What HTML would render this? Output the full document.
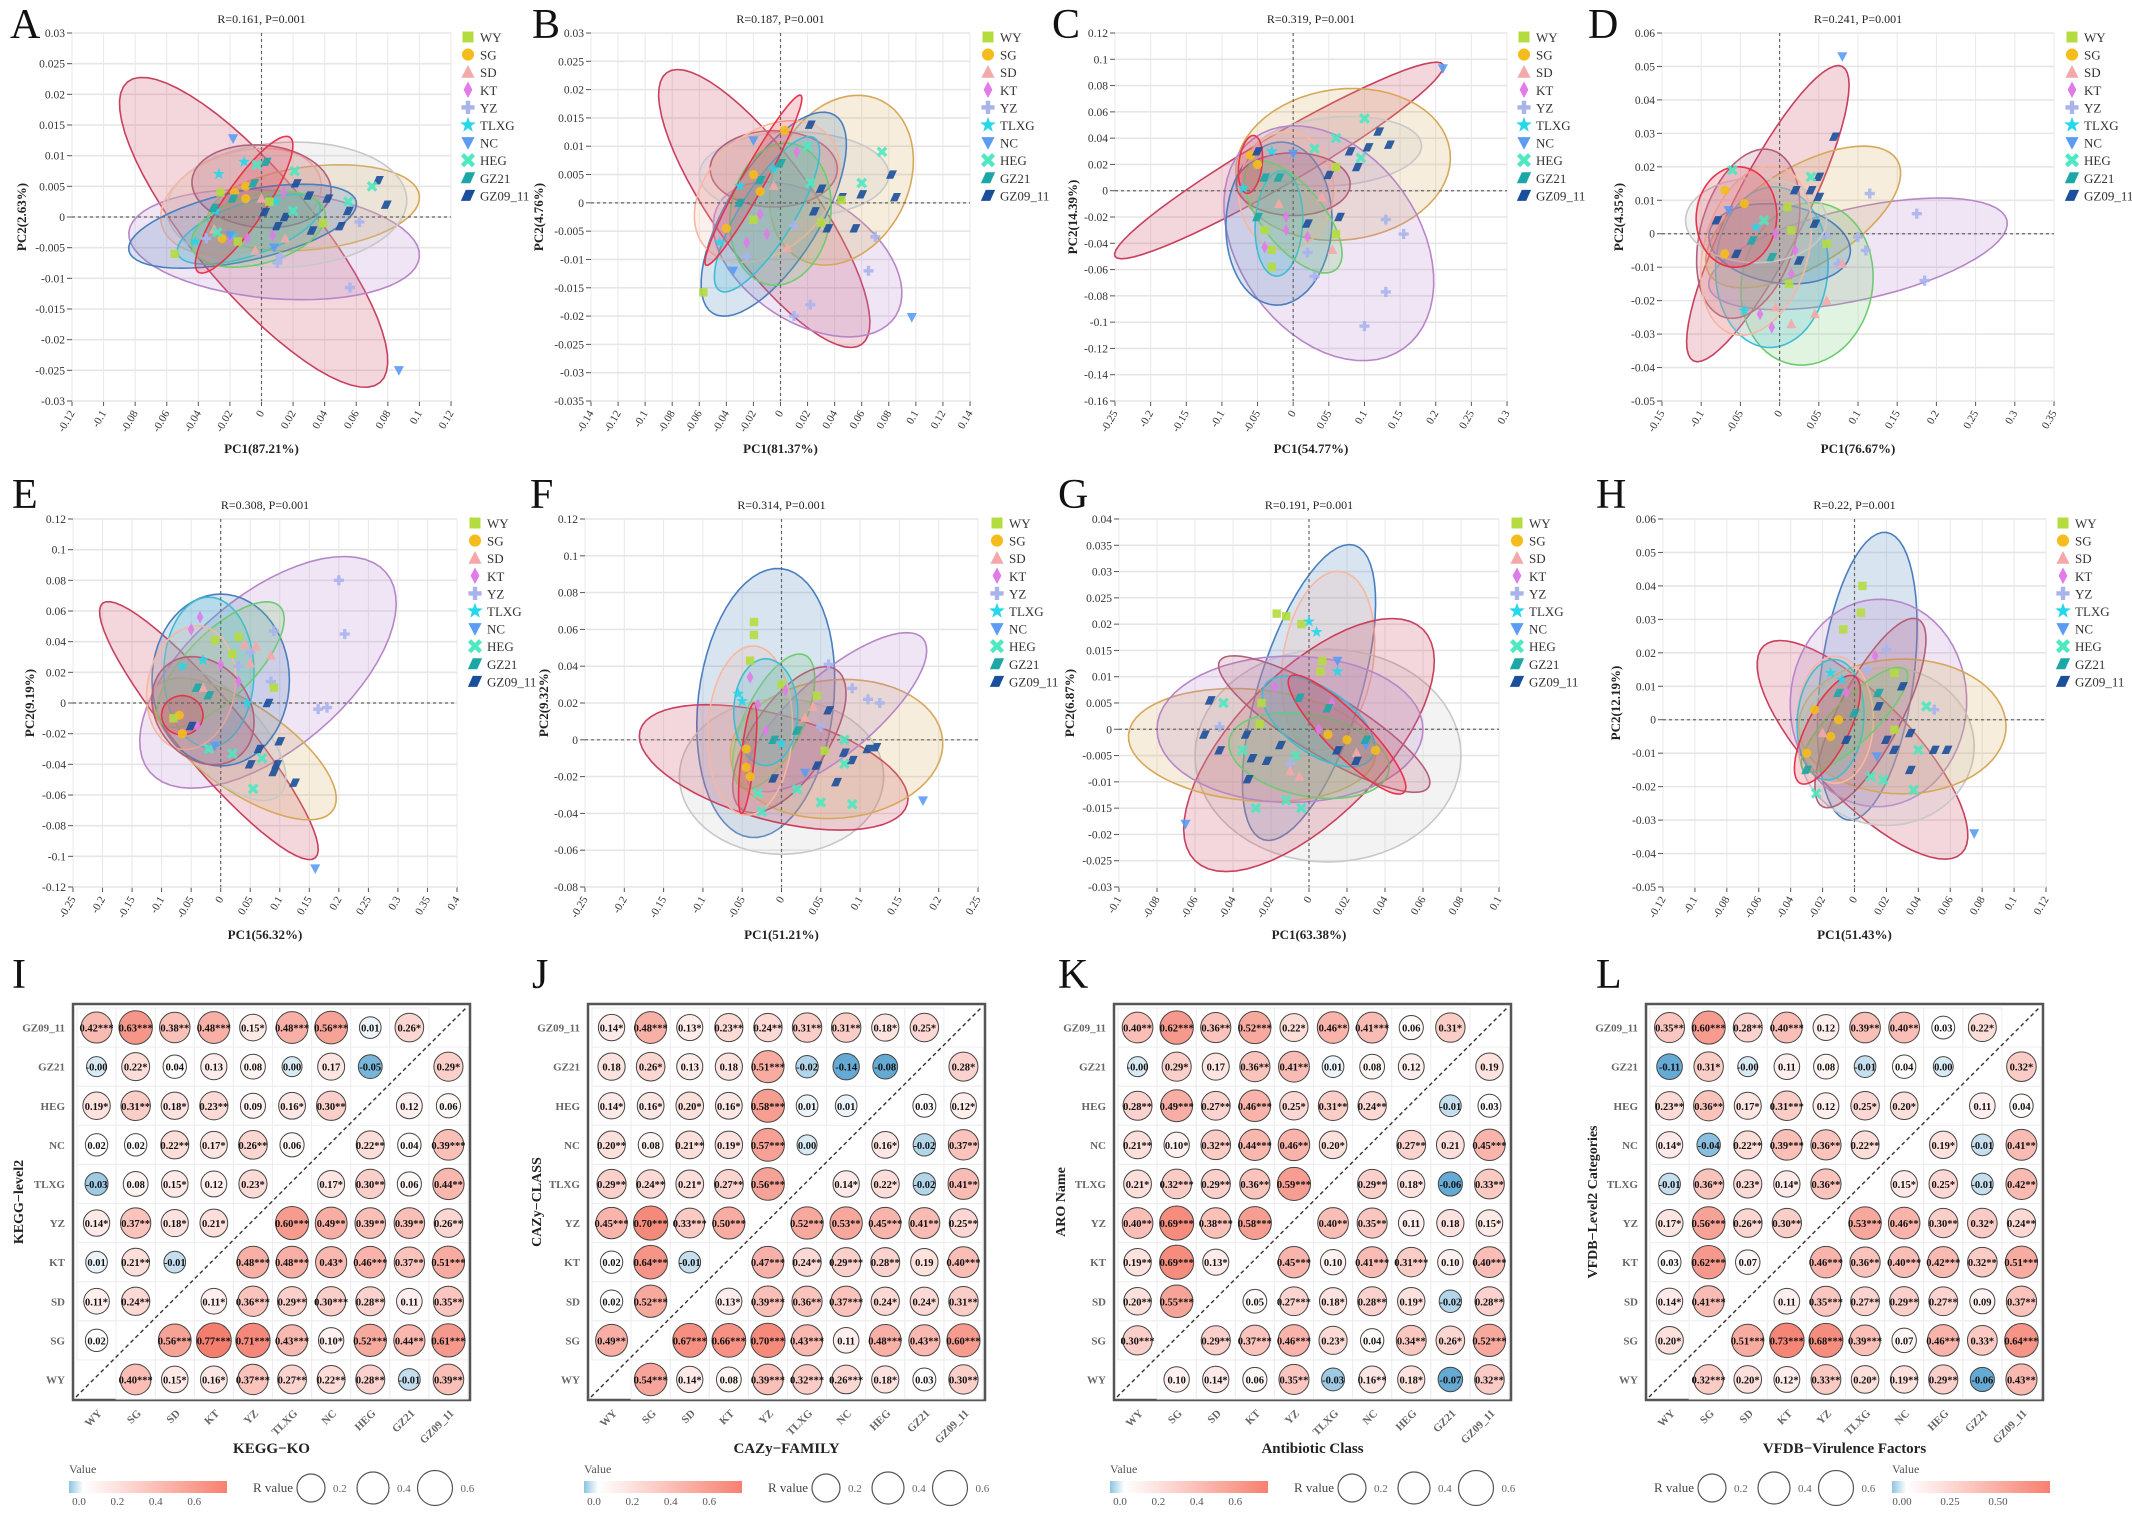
<!DOCTYPE html>
<html><head><meta charset="utf-8">
<style>
html,body{margin:0;padding:0;background:#fff;}
svg{display:block;font-family:"Liberation Serif","DejaVu Serif",serif;}
</style></head>
<body>
<svg id="fig" width="2132" height="1517" viewBox="0 0 2132 1517" xmlns="http://www.w3.org/2000/svg">
<rect x="0" y="0" width="2132" height="1517" fill="#fff"/>
</svg>
<script>
// ---------------- shared data ----------------
const groupNames = ['WY','SG','SD','KT','YZ','TLXG','NC','HEG','GZ21','GZ09_11'];
const groupColors = ['#b5dc3f','#f4bd1b','#f4a9a8','#e07be8','#a9b4ec','#25d7ea','#5b9bf4','#4ee8c1','#1ca7a6','#1b4f9b'];
const ellColors = ['#c9405e','#b786c9','#d6a85a','#c8c8c8','#4a7fbf','#3fbcd3','#6fcb72','#f7b7a0','#b3607a','#e8334a'];

// Panel A
const ptsA = [[6,-0.018,0.0128],[6,0.087,-0.025],[5,-0.027,0.007],[5,-0.011,0.009],[7,-0.003,0.0085],[8,0.003,0.009],[7,0.021,0.0075],[1,-0.017,0.004],[1,-0.01,0.005],[1,-0.01,0.003],[0,-0.026,0.004],[0,-0.055,-0.006],[0,0.039,-0.001],[9,0.074,0.006],[9,0.079,0.002],[9,0.042,0.003],[9,0.055,0.001],[9,0.05,-0.0015],[9,0.03,0.0035],[9,0.022,0.0055],[9,0.015,0],[9,0.032,-0.0022],[9,0.01,-0.0015],[7,0.07,0.005],[7,0.055,0.0025],[7,0.02,0.001],[4,0.062,-0.0008],[4,0.056,-0.0115],[4,0.012,-0.0065],[4,0.01,-0.0075],[3,0.014,0.004],[3,0.007,-0.003],[3,-0.009,-0.0035],[2,0,0.003],[2,0.015,-0.0035],[2,-0.004,-0.0055],[5,-0.042,-0.004],[5,-0.029,0.001],[5,-0.018,-0.003],[5,0.009,0.0025],[6,0.008,-0.005],[8,-0.005,0.0055],[8,-0.018,0.003],[8,-0.03,0.0015],[3,-0.02,-0.0035],[4,-0.035,-0.0035],[1,-0.025,-0.0035],[2,-0.03,-0.002],[0,-0.015,-0.004],[7,-0.028,-0.0025],[6,-0.02,-0.003],[9,0.002,0.0008],[0,0.005,0.0025]];
// ellipse: [colorIdx, cx, cy, ax, ay, ratio]
const ellA = [[0,-0.005,-0.0025,0.08,-0.0245,0.3],[1,0.008,-0.0045,0.092,-0.002,0.37],[2,0.033,0.0015,0.067,0.002,0.39],[3,0.016,0.002,0.076,0.001,0.52],[7,-0.013,0.0025,0.05,0.004,0.6],[8,0,0.005,0.044,-0.001,0.59],[4,-0.012,-0.0015,0.072,0.004,0.3],[5,-0.008,-0.002,0.045,0.004,0.35],[6,-0.002,-0.002,0.042,0.003,0.5],[9,-0.011,0.002,0.029,0.011,0.25]];
// Panel B
const ptsB = [[6,0.097,-0.0202],[4,0.022,-0.018],[4,0.01,-0.02],[4,0.065,-0.012],[4,0.07,-0.006],[0,-0.057,-0.0158],[9,0.022,0.0138],[9,0.082,0.005],[9,0.085,0.001],[9,0.06,0.0015],[9,0.045,0.001],[9,0.03,0.0025],[9,0.025,-0.0015],[9,0.035,-0.0045],[9,0.055,-0.0045],[7,0.075,0.009],[7,0.06,0.0035],[7,0.022,0.0035],[7,0.02,0.01],[1,0.003,0.0128],[1,-0.04,-0.0045],[5,-0.045,-0.007],[6,-0.035,-0.012],[4,-0.025,-0.0095],[3,-0.01,-0.0055],[3,0.012,0.009],[2,0.005,-0.008],[0,-0.02,-0.003],[8,-0.015,0.004],[5,-0.005,0.006],[8,-0.03,0],[6,-0.02,0.011],[0,0.03,-0.0035],[0,0.045,0.0005],[4,0.01,-0.004],[1,-0.015,0.002],[3,-0.025,-0.007],[2,-0.005,0.003],[5,-0.03,0.003],[8,0.0,0.007],[1,-0.02,0.005],[3,-0.015,-0.002]];
const ellB = [[0,-0.012,-0.001,0.072,-0.024,0.3],[1,0.02,-0.01,0.065,-0.01,0.6],[2,0.045,0.004,0.03,0.014,0.75],[3,0.01,0.005,0.07,0,0.45],[4,-0.005,-0.002,0.045,0.0175,0.4],[8,-0.005,0.006,0.047,0,0.6],[7,-0.01,0.002,0.045,0.01,0.7],[6,0,-0.002,0.008,0.0125,0.7],[5,-0.01,-0.002,0.035,0.0135,0.3],[9,-0.02,0.004,0.035,0.015,0.12]];
// Panel C
const ptsC = [[6,0.21,0.093],[4,0.1,-0.103],[4,0.13,-0.077],[4,0.155,-0.033],[4,0.13,-0.022],[4,0.03,-0.065],[7,0.1,0.055],[7,0.06,0.04],[7,0.095,0.025],[9,0.12,0.045],[9,0.135,0.035],[9,0.105,0.033],[9,0.08,0.03],[9,0.09,0.018],[9,0.05,0.012],[9,0.065,-0.02],[9,0.02,-0.025],[0,0.06,0.018],[0,0.06,-0.033],[0,-0.03,-0.058],[0,-0.03,-0.045],[2,0.055,-0.045],[2,0.04,-0.005],[3,-0.04,-0.043],[3,-0.01,-0.02],[1,-0.06,0.027],[1,-0.05,0.02],[5,-0.07,0.002],[5,-0.03,0.03],[8,-0.02,0.01],[8,-0.05,-0.02],[6,0,0.028],[4,0.02,-0.047],[7,0.03,0.032],[2,-0.02,-0.01],[3,0.02,-0.035],[0,-0.04,-0.03],[9,-0.05,0.03],[8,-0.04,0.01],[3,-0.01,-0.03]];
const ellC = [[0,-0.02,0.023,0.23,0.073,0.13],[2,0.07,0.02,0.15,0.01,0.7],[3,0.06,0.03,0.12,0.005,0.4],[1,0.05,-0.04,0.105,-0.08,0.7],[4,-0.02,-0.025,0.005,0.062,0.65],[7,-0.01,0,0.005,0.045,0.8],[8,0,0.005,0.08,0,0.55],[5,-0.02,-0.025,0.004,0.04,0.45],[6,0,-0.02,0.06,-0.04,0.45],[9,-0.06,0.02,0.005,0.022,0.4]];
// Panel D
const ptsD = [[6,0.08,0.053],[4,0.115,0.012],[4,0.175,0.006],[4,0.185,-0.014],[4,0.11,-0.005],[4,0.1,-0.001],[4,0.06,-0.001],[4,0.075,-0.009],[9,0.07,0.029],[9,0.05,0.017],[9,0.04,0.013],[9,0.05,0.011],[9,0.02,0.013],[9,0.045,0.003],[9,0.025,-0.008],[9,-0.055,-0.006],[9,-0.08,0.004],[2,0.08,-0.009],[2,0.06,-0.02],[2,0.045,-0.024],[2,0.015,-0.027],[2,-0.005,-0.022],[3,-0.025,-0.024],[3,-0.01,-0.028],[3,0.015,-0.012],[3,0.02,-0.005],[5,-0.045,-0.023],[7,-0.06,0.019],[7,0.04,0.017],[1,-0.07,0.013],[1,-0.07,-0.006],[1,-0.045,0.009],[0,0.01,0.008],[0,0.015,0.001],[0,0.06,-0.003],[0,0.012,-0.015],[8,-0.035,-0.002],[8,-0.01,-0.007],[6,-0.065,0.007],[5,-0.03,0.002],[7,-0.02,0.004],[3,-0.005,0.0]];
const ellD = [[0,-0.015,0.006,0.095,0.044,0.22],[1,0.1,-0.006,0.19,0.01,0.3],[2,0.03,0.005,0.12,0.017,0.45],[6,0.035,-0.015,0.02,0.024,0.8],[5,-0.01,-0.01,0.005,0.024,0.7],[4,0,-0.003,0.09,-0.003,0.55],[8,-0.04,0,0.03,0.025,0.55],[7,-0.03,-0.005,0.03,0.025,0.6],[3,-0.03,0.004,0.09,0,0.6],[9,-0.055,0.005,0.005,0.015,0.8]];
// Panel E
const ptsE = [[6,0.16,-0.108],[4,0.2,0.08],[4,0.21,0.045],[4,0.165,-0.004],[4,0.18,-0.003],[4,0.09,0.047],[4,0.085,0.014],[4,0.05,0.033],[4,0.03,0.024],[0,-0.01,0.041],[0,0.03,0.043],[0,0.02,0.032],[0,0.09,0.01],[2,0.04,0.038],[2,0.06,0.037],[2,0.085,0.031],[2,0.05,0.026],[3,-0.035,0.056],[3,-0.05,0.048],[3,0.0,0.025],[3,0.03,0.014],[5,-0.065,0.024],[5,-0.03,0.028],[5,0.045,0],[9,0.08,0],[9,0.1,-0.025],[9,0.065,-0.03],[9,0.095,-0.04],[9,0.05,-0.04],[9,0.09,-0.045],[9,0.125,-0.052],[7,0.055,-0.056],[7,0.07,-0.036],[7,-0.02,-0.03],[7,0.02,-0.033],[1,-0.065,-0.02],[1,-0.07,-0.008],[0,-0.08,-0.01],[8,-0.02,0.005],[6,-0.01,-0.028],[2,-0.03,0.01],[3,-0.04,-0.015],[9,-0.05,-0.015],[8,-0.04,0.01]];
const ellE = [[1,0.08,0.02,0.2,0.065,0.5],[0,-0.02,-0.018,0.18,-0.083,0.2],[2,0.04,-0.03,0.15,-0.04,0.4],[3,0,-0.02,0.1,-0.04,0.45],[4,0,0.015,0,0.056,0.8],[5,-0.02,0.02,0,0.049,0.6],[6,0,0.025,0.1,0.038,0.4],[7,-0.05,0.01,0.02,0.04,0.7],[8,-0.03,-0.005,0.06,-0.03,0.8],[9,-0.065,-0.008,0.035,0,0.95]];
// Panel F
const ptsF = [[6,0.18,-0.033],[0,-0.035,0.064],[0,-0.035,0.057],[0,-0.04,0.043],[0,0.045,0.024],[0,0.055,-0.006],[0,0.0,0.03],[3,-0.04,0.034],[3,-0.03,0.019],[3,0.005,0.027],[4,0.06,0.041],[4,0.09,0.028],[4,0.11,0.022],[4,0.125,0.02],[4,0.05,0.007],[5,-0.055,0.025],[5,-0.05,0.021],[2,0.04,0.018],[2,0.03,0.012],[9,0.06,0.016],[9,0.08,-0.007],[9,0.09,-0.011],[9,0.11,-0.005],[9,0.12,-0.004],[9,0.045,-0.014],[9,0.07,-0.023],[9,-0.01,-0.021],[7,0.08,0],[7,0.08,-0.013],[7,0.05,-0.034],[7,0.09,-0.035],[7,0.02,-0.027],[7,-0.025,-0.039],[7,-0.03,-0.029],[1,-0.045,-0.015],[1,-0.04,-0.02],[8,-0.01,0],[8,0.02,0.005],[6,0.03,-0.018],[5,0,-0.002],[1,-0.045,-0.005],[3,-0.02,0.005]];
const ellF = [[4,-0.02,0.02,0.02,0.073,0.5],[3,0,-0.02,0.13,0,0.76],[0,-0.01,-0.015,0.17,-0.02,0.38],[2,0.07,-0.005,0.135,0.005,0.65],[1,0.07,0.015,0.11,0.04,0.35],[6,-0.01,0.01,0.04,0.036,0.4],[8,0.01,0,0.06,0.038,0.45],[7,-0.04,0.005,0.005,0.046,0.5],[5,-0.02,0.015,0,0.029,0.6],[9,-0.043,-0.01,0.008,0.03,0.12]];
// Panel G
const ptsG = [[6,-0.065,-0.018],[0,-0.017,0.022],[0,-0.012,0.0215],[0,-0.004,0.02],[0,0.007,0.013],[0,0.006,0.011],[0,-0.025,0.005],[0,-0.026,0.001],[5,0.0,0.0205],[5,0.004,0.0185],[5,0.015,0.011],[6,0.015,0.013],[9,-0.052,0.0055],[9,-0.055,-0.001],[9,-0.047,-0.004],[9,-0.033,-0.001],[9,-0.03,-0.0055],[9,-0.032,-0.0095],[9,-0.015,-0.003],[9,-0.022,-0.006],[7,-0.045,0.005],[7,-0.035,-0.004],[7,-0.028,-0.015],[7,-0.012,-0.0135],[7,-0.004,-0.015],[7,-0.007,-0.005],[4,-0.047,0.0005],[4,-0.01,-0.0065],[2,-0.01,-0.008],[2,-0.005,-0.009],[3,-0.018,0.008],[3,0.012,0.005],[1,0.02,-0.002],[1,0.035,-0.004],[1,0.01,-0.001],[8,0.01,0.004],[8,-0.005,0.006],[6,0.03,-0.003],[2,0.025,-0.0045],[3,0.005,0.0],[9,0.015,-0.004],[9,0.025,-0.006],[8,0.03,-0.002]];
const ellG = [[4,0,0.007,0.024,0.028,0.33],[7,0.01,0.013,0.007,0.017,0.5],[3,0.01,-0.005,0.07,0,0.8],[0,0,-0.003,0.06,0.022,0.45],[2,-0.03,-0.003,0.065,-0.002,0.45],[1,-0.01,0,0.07,0,0.55],[8,0.008,0.001,0.055,-0.012,0.25],[6,0,-0.005,0.042,-0.003,0.5],[5,0.005,0.0015,0.028,-0.007,0.5],[9,0.02,-0.001,0.03,-0.011,0.25]];
// Panel H
const ptsH = [[6,0.075,-0.034],[0,0.005,0.04],[0,0.004,0.032],[0,-0.007,0.027],[0,0.025,0.014],[0,0.025,-0.003],[3,0.013,0.019],[4,0.02,0.021],[4,0.008,0.015],[4,0.05,0.003],[7,0.045,0.004],[7,0.04,-0.009],[7,0.01,-0.017],[7,0.018,-0.018],[7,0.037,-0.021],[7,-0.024,-0.022],[9,0.035,-0.004],[9,0.02,-0.006],[9,0.025,-0.009],[9,0.05,-0.009],[9,0.058,-0.009],[9,0.035,-0.015],[9,0.015,0.004],[9,0.03,0.01],[6,0.014,-0.011],[1,-0.03,-0.01],[1,-0.025,0.003],[1,-0.015,-0.005],[1,-0.01,0.0],[8,-0.03,-0.015],[8,-0.01,0.008],[5,-0.015,0.014],[5,-0.008,0.012],[2,-0.02,-0.004],[3,-0.005,0.008],[8,0.015,0.008],[9,-0.005,-0.006],[8,0.0,0.002]];
const ellH = [[4,0.008,0.013,0.012,0.043,0.32],[0,0.005,-0.009,0.062,-0.031,0.35],[1,0.015,0.005,0.003,0.031,0.85],[3,0.02,-0.008,0.055,0,0.9],[2,0.03,-0.002,0.065,0,0.65],[8,0.01,0.002,0.03,0.028,0.3],[7,-0.012,0,0,0.019,0.6],[5,-0.015,0,0.003,0.018,0.55],[6,0,0,0.032,0.015,0.3],[9,-0.017,-0.003,0.017,0.016,0.35]];

// Heatmap matrices (rows top->bottom: GZ09_11..WY; cols WY..GZ09_11)
const heatI = [
['0.42***','0.63***','0.38**','0.48***','0.15*','0.48***','0.56***','0.01','0.26*',''],
['-0.00','0.22*','0.04','0.13','0.08','0.00','0.17','-0.05','','0.29*'],
['0.19*','0.31**','0.18*','0.23**','0.09','0.16*','0.30**','','0.12','0.06'],
['0.02','0.02','0.22**','0.17*','0.26**','0.06','','0.22**','0.04','0.39***'],
['-0.03','0.08','0.15*','0.12','0.23*','','0.17*','0.30**','0.06','0.44**'],
['0.14*','0.37**','0.18*','0.21*','','0.60***','0.49**','0.39**','0.39**','0.26**'],
['0.01','0.21**','-0.01','','0.48***','0.48***','0.43*','0.46***','0.37**','0.51***'],
['0.11*','0.24**','','0.11*','0.36***','0.29**','0.30***','0.28**','0.11','0.35**'],
['0.02','','0.56***','0.77***','0.71***','0.43***','0.10*','0.52***','0.44**','0.61***'],
['','0.40***','0.15*','0.16*','0.37***','0.27**','0.22**','0.28**','-0.01','0.39**']];
const heatJ = [
['0.14*','0.48***','0.13*','0.23**','0.24**','0.31**','0.31**','0.18*','0.25*',''],
['0.18','0.26*','0.13','0.18','0.51***','-0.02','-0.14','-0.08','','0.28*'],
['0.14*','0.16*','0.20*','0.16*','0.58***','0.01','0.01','','0.03','0.12*'],
['0.20**','0.08','0.21**','0.19*','0.57***','0.00','','0.16*','-0.02','0.37**'],
['0.29**','0.24**','0.21*','0.27**','0.56***','','0.14*','0.22*','-0.02','0.41**'],
['0.45***','0.70***','0.33***','0.50***','','0.52***','0.53**','0.45***','0.41**','0.25**'],
['0.02','0.64***','-0.01','','0.47***','0.24**','0.29***','0.28**','0.19','0.40***'],
['0.02','0.52***','','0.13*','0.39***','0.36**','0.37***','0.24*','0.24*','0.31**'],
['0.49**','','0.67***','0.66***','0.70***','0.43***','0.11','0.48***','0.43**','0.60***'],
['','0.54***','0.14*','0.08','0.39***','0.32***','0.26***','0.18*','0.03','0.30**']];
const heatK = [
['0.40**','0.62***','0.36**','0.52***','0.22*','0.46**','0.41***','0.06','0.31*',''],
['-0.00','0.29*','0.17','0.36**','0.41**','0.01','0.08','0.12','','0.19'],
['0.28**','0.49***','0.27**','0.46***','0.25*','0.31**','0.24**','','-0.01','0.03'],
['0.21**','0.10*','0.32**','0.44***','0.46**','0.20*','','0.27**','0.21','0.45***'],
['0.21*','0.32***','0.29**','0.36**','0.59***','','0.29**','0.18*','-0.06','0.33**'],
['0.40**','0.69***','0.38***','0.58***','','0.40**','0.35**','0.11','0.18','0.15*'],
['0.19**','0.69***','0.13*','','0.45***','0.10','0.41***','0.31***','0.10','0.40***'],
['0.20**','0.55***','','0.05','0.27***','0.18*','0.28**','0.19*','-0.02','0.28**'],
['0.30***','','0.29**','0.37***','0.46***','0.23*','0.04','0.34**','0.26*','0.52***'],
['','0.10','0.14*','0.06','0.35**','-0.03','0.16**','0.18*','-0.07','0.32**']];
const heatL = [
['0.35**','0.60***','0.28**','0.40***','0.12','0.39**','0.40**','0.03','0.22*',''],
['-0.11','0.31*','-0.00','0.11','0.08','-0.01','0.04','0.00','','0.32*'],
['0.23**','0.36**','0.17*','0.31***','0.12','0.25*','0.20*','','0.11','0.04'],
['0.14*','-0.04','0.22**','0.39***','0.36**','0.22**','','0.19*','-0.01','0.41**'],
['-0.01','0.36**','0.23*','0.14*','0.36**','','0.15*','0.25*','-0.01','0.42**'],
['0.17*','0.56***','0.26**','0.30**','','0.53***','0.46**','0.30**','0.32*','0.24**'],
['0.03','0.62***','0.07','','0.46***','0.36**','0.40***','0.42***','0.32**','0.51***'],
['0.14*','0.41***','','0.11','0.35***','0.27**','0.29**','0.27**','0.09','0.37**'],
['0.20*','','0.51***','0.73***','0.68***','0.39***','0.07','0.46***','0.33*','0.64***'],
['','0.32***','0.20*','0.12*','0.33**','0.20*','0.19**','0.29**','-0.06','0.43**']];
const rowLabels = ['GZ09_11','GZ21','HEG','NC','TLXG','YZ','KT','SD','SG','WY'];
const colLabels = ['WY','SG','SD','KT','YZ','TLXG','NC','HEG','GZ21','GZ09_11'];

// ---------------- helpers ----------------
const NS='http://www.w3.org/2000/svg';
const svg=document.getElementById('fig');
function mk(tag, attrs, parent){const e=document.createElementNS(NS,tag);for(const k in attrs)e.setAttribute(k,attrs[k]);(parent||svg).appendChild(e);return e;}
function txt(s, attrs, parent){const e=mk('text',attrs,parent);e.textContent=s;return e;}
function fmt(v){let s=(+v.toFixed(4)).toString();return s;}

function marker(g, gi, X, Y, s, parent){
  const c=groupColors[gi];let e;
  if(gi===0) e=mk('rect',{x:X-s,y:Y-s,width:2*s,height:2*s,fill:c},parent);
  else if(gi===1) e=mk('circle',{cx:X,cy:Y,r:s*1.1,fill:c},parent);
  else if(gi===2) e=mk('polygon',{points:`${X},${Y-s*1.3} ${X+s*1.2},${Y+s} ${X-s*1.2},${Y+s}`,fill:c},parent);
  else if(gi===3) e=mk('polygon',{points:`${X},${Y-s*1.5} ${X+s*0.8},${Y} ${X},${Y+s*1.5} ${X-s*0.8},${Y}`,fill:c},parent);
  else if(gi===4) e=mk('path',{d:`M${X-s*0.4},${Y-s*1.2}h${s*0.8}v${s*0.8}h${s*0.8}v${s*0.8}h${-s*0.8}v${s*0.8}h${-s*0.8}v${-s*0.8}h${-s*0.8}v${-s*0.8}h${s*0.8}z`,fill:c},parent);
  else if(gi===5){let p=[];for(let i=0;i<10;i++){const r=i%2?s*0.6:s*1.5;const a=-Math.PI/2+i*Math.PI/5;p.push((X+r*Math.cos(a)).toFixed(1)+','+(Y+r*Math.sin(a)).toFixed(1));}e=mk('polygon',{points:p.join(' '),fill:c},parent);}
  else if(gi===6) e=mk('polygon',{points:`${X-s*1.2},${Y-s} ${X+s*1.2},${Y-s} ${X},${Y+s*1.3}`,fill:c},parent);
  else if(gi===7){e=mk('g',{},parent);mk('line',{x1:X-s,y1:Y-s,x2:X+s,y2:Y+s,stroke:c,'stroke-width':s*0.8},e);mk('line',{x1:X-s,y1:Y+s,x2:X+s,y2:Y-s,stroke:c,'stroke-width':s*0.8},e);}
  else e=mk('polygon',{points:`${X-s*0.4},${Y-s} ${X+s*1.3},${Y-s} ${X+s*0.4},${Y+s} ${X-s*1.3},${Y+s}`,fill:c},parent);
  return e;
}

// ---------------- PCA panels ----------------
const pcaPanels = [
 {id:'A',lx:10,ly:38,x0:72,x1:451,y0:33,y1:401,xmin:-0.12,xmax:0.12,xstep:0.02,ymin:-0.03,ymax:0.03,ystep:0.005,title:'R=0.161, P=0.001',xt:'PC1(87.21%)',yt:'PC2(2.63%)',ytx:26,leg:468,pts:ptsA,ell:ellA},
 {id:'B',lx:532,ly:38,x0:591,x1:970,y0:33,y1:401,xmin:-0.14,xmax:0.14,xstep:0.02,ymin:-0.035,ymax:0.03,ystep:0.005,title:'R=0.187, P=0.001',xt:'PC1(81.37%)',yt:'PC2(4.76%)',ytx:543,leg:988,pts:ptsB,ell:ellB},
 {id:'C',lx:1052,ly:38,x0:1115,x1:1507,y0:33,y1:401,xmin:-0.25,xmax:0.3,xstep:0.05,ymin:-0.16,ymax:0.12,ystep:0.02,title:'R=0.319, P=0.001',xt:'PC1(54.77%)',yt:'PC2(14.39%)',ytx:1077,leg:1524,pts:ptsC,ell:ellC},
 {id:'D',lx:1588,ly:38,x0:1662,x1:2054,y0:33,y1:401,xmin:-0.15,xmax:0.35,xstep:0.05,ymin:-0.05,ymax:0.06,ystep:0.01,title:'R=0.241, P=0.001',xt:'PC1(76.67%)',yt:'PC2(4.35%)',ytx:1623,leg:2072,pts:ptsD,ell:ellD},
 {id:'E',lx:12,ly:508,x0:73,x1:457,y0:519,y1:887,xmin:-0.25,xmax:0.4,xstep:0.05,ymin:-0.12,ymax:0.12,ystep:0.02,title:'R=0.308, P=0.001',xt:'PC1(56.32%)',yt:'PC2(9.19%)',ytx:34,leg:475,pts:ptsE,ell:ellE},
 {id:'F',lx:530,ly:508,x0:585,x1:978,y0:519,y1:887,xmin:-0.25,xmax:0.25,xstep:0.05,ymin:-0.08,ymax:0.12,ystep:0.02,title:'R=0.314, P=0.001',xt:'PC1(51.21%)',yt:'PC2(9.32%)',ytx:548,leg:997,pts:ptsF,ell:ellF},
 {id:'G',lx:1058,ly:508,x0:1119,x1:1499,y0:519,y1:887,xmin:-0.1,xmax:0.1,xstep:0.02,ymin:-0.03,ymax:0.04,ystep:0.005,title:'R=0.191, P=0.001',xt:'PC1(63.38%)',yt:'PC2(6.87%)',ytx:1074,leg:1517,pts:ptsG,ell:ellG},
 {id:'H',lx:1596,ly:508,x0:1663,x1:2046,y0:519,y1:887,xmin:-0.12,xmax:0.12,xstep:0.02,ymin:-0.05,ymax:0.06,ystep:0.01,title:'R=0.22, P=0.001',xt:'PC1(51.43%)',yt:'PC2(12.19%)',ytx:1620,leg:2063,pts:ptsH,ell:ellH}
];

pcaPanels.forEach(P=>{
  const g=mk('g',{});
  
  
  const sx=v=>P.x0+(v-P.xmin)/(P.xmax-P.xmin)*(P.x1-P.x0);
  const sy=v=>P.y1-(v-P.ymin)/(P.ymax-P.ymin)*(P.y1-P.y0);
  const kx=(P.x1-P.x0)/(P.xmax-P.xmin), ky=(P.y1-P.y0)/(P.ymax-P.ymin);
  const L=txt(P.id,{x:P.lx,y:P.ly,'font-size':42,fill:'#111'},g);
  
  
  const T=txt(P.title,{x:(P.x0+P.x1)/2,y:P.y0-10,'font-size':12,'text-anchor':'middle',fill:'#222'},g);
  
  
  const nx=Math.round((P.xmax-P.xmin)/P.xstep), ny=Math.round((P.ymax-P.ymin)/P.ystep);
  for(let i=0;i<=nx;i++){const v=P.xmin+i*P.xstep;const X=sx(v);
    mk('line',{x1:X,y1:P.y0,x2:X,y2:P.y1,stroke:'#e8e8e8','stroke-width':1},g);
    mk('line',{x1:X,y1:P.y1,x2:X,y2:P.y1+5,stroke:'#555','stroke-width':1},g);
    const t=txt(fmt(v),{x:X+3,y:P.y1+12,'font-size':11,'text-anchor':'end',fill:'#333',transform:`rotate(-60 ${X+3} ${P.y1+12})`},g);
    
    
  }
  for(let j=0;j<=ny;j++){const v=P.ymin+j*P.ystep;const Y=sy(v);
    mk('line',{x1:P.x0,y1:Y,x2:P.x1,y2:Y,stroke:'#e6e6e6','stroke-width':1.6},g);
    mk('line',{x1:P.x0-5,y1:Y,x2:P.x0,y2:Y,stroke:'#555','stroke-width':1},g);
    const t=txt(fmt(v),{x:P.x0-7,y:Y+4,'font-size':11.5,'text-anchor':'end',fill:'#333'},g);
    
    
  }
  P.ell.forEach(E=>{
    const [ci,cx,cy,ax,ay,r]=E;const X=sx(cx),Y=sy(cy);
    const Ax=ax*kx, Ay=-ay*ky; const Bx=-Ay*r, By=Ax*r;
    let d='';for(let k=0;k<=60;k++){const t=k/60*2*Math.PI;const px=X+Ax*Math.cos(t)+Bx*Math.sin(t), py=Y+Ay*Math.cos(t)+By*Math.sin(t);d+=(k?'L':'M')+px.toFixed(1)+','+py.toFixed(1);}
    const e=mk('path',{d:d+'Z',fill:ellColors[ci],'fill-opacity':0.21,stroke:ellColors[ci],'stroke-width':1.6},g);
    
    
  });
  mk('line',{x1:sx(0),y1:P.y0,x2:sx(0),y2:P.y1,stroke:'#666','stroke-width':1.2,'stroke-dasharray':'3,3'},g);
  mk('line',{x1:P.x0,y1:sy(0),x2:P.x1,y2:sy(0),stroke:'#666','stroke-width':1.2,'stroke-dasharray':'3,3'},g);
  P.pts.forEach(p=>{const m=marker(g,p[0],sx(p[1]),sy(p[2]),4.2,g);
    m.setAttribute('opacity','0.9');
    
    
  });
  const xt=txt(P.xt,{x:(P.x0+P.x1)/2,y:P.y1+52,'font-size':13,'font-weight':'bold','text-anchor':'middle',fill:'#222'},g);
  
  
  const ym=(P.y0+P.y1)/2;
  const yt=txt(P.yt,{x:P.ytx,y:ym,'font-size':13,'font-weight':'bold','text-anchor':'middle',fill:'#222',transform:`rotate(-90 ${P.ytx} ${ym})`},g);
  
  
  groupNames.forEach((n,i)=>{
    const Y=P.y0+4+i*17.6;
    const lg=mk('g',{},g);
    
    
    marker(lg,i,P.leg,Y,5.5,lg);
    txt(n,{x:P.leg+12,y:Y+5,'font-size':13,fill:'#333'},lg);
  });
});

// ---------------- correlation heatmaps ----------------
const heatPanels=[
 {id:'I',lx:12,bx:73,m:heatI,xt:'KEGG−KO',yt:'KEGG−level2',ytx:18,legFirst:'value'},
 {id:'J',lx:532,bx:588,m:heatJ,xt:'CAZy−FAMILY',yt:'CAZy−CLASS',ytx:536,legFirst:'value'},
 {id:'K',lx:1058,bx:1114,m:heatK,xt:'Antibiotic Class',yt:'ARO Name',ytx:1060,legFirst:'value'},
 {id:'L',lx:1596,bx:1646,m:heatL,xt:'VFDB−Virulence Factors',yt:'VFDB−Level2 Categories',ytx:1592,legFirst:'r'}
];
function lerp(a,b,t){return Math.round(a+(b-a)*t);}
function colorFor(v){
  if(v<0.02){const t=Math.min(1,(0.02-v)/0.08);return `rgb(${lerp(255,100,t)},${lerp(255,170,t)},${lerp(255,212,t)})`;}
  const t=Math.min(1,(v-0.02)/0.76);return `rgb(${lerp(255,244,t)},${lerp(255,124,t)},${lerp(255,108,t)})`;
}
function radFor(v){return 10+8.5*Math.sqrt(Math.abs(v));}
const BT=1004, CELL=39.1, PAD=4;
heatPanels.forEach(H=>{
  const g=mk('g',{});
  
  
  const L=txt(H.id,{x:H.lx,y:988,'font-size':42,fill:'#111'},g);
  
  
  const bx=H.bx, bw=397, bh=396;
  mk('rect',{x:bx,y:BT,width:bw,height:bh,fill:'#fff',stroke:'#555','stroke-width':2.5},g);
  const cx=c=>bx+PAD+CELL*(c+0.5), cy=r=>BT+PAD+CELL*(r+0.5);
  H.m.forEach((row,r)=>row.forEach((s,c)=>{
    if(s==='')return;
    mk('rect',{x:cx(c)-CELL/2,y:cy(r)-CELL/2,width:CELL,height:CELL,fill:'none',stroke:'#eeeeee','stroke-width':1},g);
  }));
  mk('line',{x1:bx+3,y1:BT+bh-3,x2:bx+bw-3,y2:BT+3,stroke:'#333','stroke-width':1.4,'stroke-dasharray':'4,3'},g);
  H.m.forEach((row,r)=>row.forEach((s,c)=>{
    if(s==='')return;
    const v=parseFloat(s);
    const cg=mk('g',{},g);
    
    
    mk('circle',{cx:cx(c),cy:cy(r),r:radFor(v),fill:colorFor(v),stroke:'#444','stroke-width':1},cg);
    txt(s,{x:cx(c),y:cy(r)+4,'font-size':10.5,'font-weight':'bold','text-anchor':'middle',fill:'#111'},cg);
  }));
  rowLabels.forEach((n,r)=>{const t=txt(n,{x:bx-8,y:cy(r)+4,'font-size':11,'font-weight':'bold','text-anchor':'end',fill:'#666'},g);
    
    });
  colLabels.forEach((n,c)=>{const X=cx(c)+6,Y=BT+bh+14;const t=txt(n,{x:X,y:Y,'font-size':11,'font-weight':'bold','text-anchor':'end',fill:'#666',transform:`rotate(-45 ${X} ${Y})`},g);
    
    });
  const xt=txt(H.xt,{x:bx+bw/2,y:1453,'font-size':15,'font-weight':'bold','text-anchor':'middle',fill:'#222'},g);
  
  
  const ym=BT+bh/2;
  const yt=txt(H.yt,{x:H.ytx+5,y:ym,'font-size':14,'font-weight':'bold','text-anchor':'middle',fill:'#222',transform:`rotate(-90 ${H.ytx+5} ${ym})`},g);
  
  
  const valX = H.legFirst==='value'? bx-4 : bx+246;
  const rX = H.legFirst==='value'? bx+180 : bx+8;
  const vg=mk('g',{},g);
  
  
  txt('Value',{x:valX,y:1473,'font-size':12,fill:'#555'},vg);
  const gid='grad'+H.id;
  const defs=mk('defs',{},vg);
  const lg=mk('linearGradient',{id:gid,x1:0,x2:1,y1:0,y2:0},defs);
  mk('stop',{offset:'0','stop-color':'#8cc4e2'},lg);
  mk('stop',{offset:'0.09','stop-color':'#ffffff'},lg);
  mk('stop',{offset:'1','stop-color':'#f7806f'},lg);
  mk('rect',{x:valX,y:1481,width:158,height:12,fill:`url(#${gid})`},vg);
  const tl = H.legFirst==='value'? ['0.0','0.2','0.4','0.6'] : ['0.00','0.25','0.50'];
  const tv = H.legFirst==='value'? [0,0.2,0.4,0.6] : [0,0.25,0.5];
  tl.forEach((s,i)=>txt(s,{x:valX+10+tv[i]*192,y:1505,'font-size':11,'text-anchor':'middle',fill:'#555'},vg));
  const rg=mk('g',{},g);
  
  
  txt('R value',{x:rX,y:1492,'font-size':13,fill:'#444'},rg);
  [[0.2,14],[0.4,16],[0.6,17.5]].forEach((d,i)=>{
    const X=rX+58+i*62;
    mk('circle',{cx:X,cy:1488,r:d[1],fill:'none',stroke:'#555','stroke-width':1.2},rg);
    txt(d[0].toFixed(1),{x:X+d[1]+8,y:1492,'font-size':11,fill:'#666'},rg);
  });
});
</script>
</body></html>
